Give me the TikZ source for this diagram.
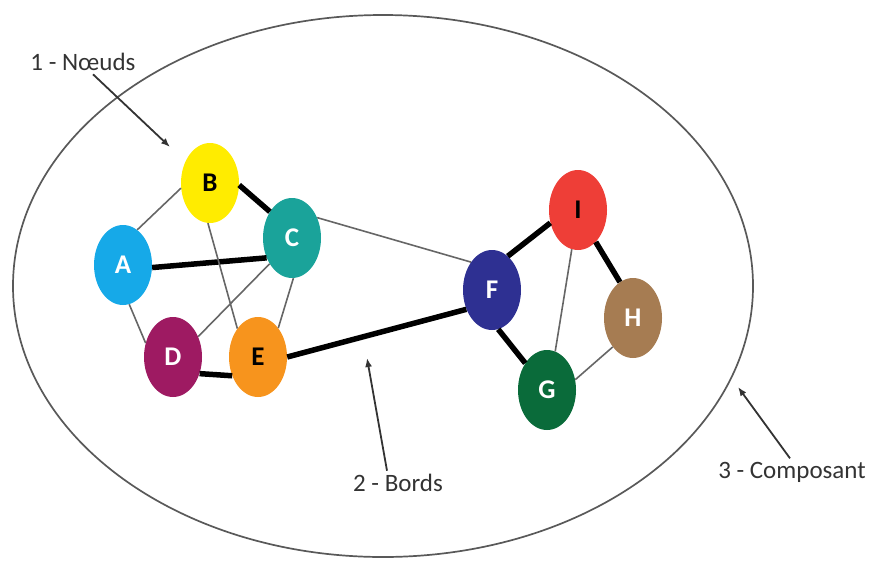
\documentclass[tikz,border=0pt]{standalone}
\usepackage{fontspec}
\setmainfont{Carlito}
\usetikzlibrary{arrows.meta,shapes.geometric}
\definecolor{cA}{HTML}{16A9E8}
\definecolor{cB}{HTML}{FFEC00}
\definecolor{cC}{HTML}{1AA39A}
\definecolor{cD}{HTML}{9E1A62}
\definecolor{cE}{HTML}{F7941D}
\definecolor{cF}{HTML}{2E3092}
\definecolor{cG}{HTML}{0A6B3A}
\definecolor{cH}{HTML}{A67C52}
\definecolor{cI}{HTML}{EE3E37}
\begin{document}
\begin{tikzpicture}[x=1pt,y=-1pt,
  vertex/.style={ellipse,minimum width=58pt,minimum height=80pt,inner sep=0pt,font=\bfseries\fontsize{27}{30}\selectfont},
  lien/.style={draw=black!60,line width=1.6pt},
  fort/.style={draw=black,line width=5.5pt},
  lbl/.style={font=\fontsize{25}{30}\selectfont,text=black!80},
  fl/.style={-{Latex[length=9pt,width=7pt]},line width=1.8pt,draw=black!80}]
\useasboundingbox (0,0) rectangle (869,560);
% composant
\draw[black!65,line width=1.7pt] (383,286) ellipse [x radius=370,y radius=271];
% noeuds
\node[vertex,fill=cA,text=white] (A) at (123,265) {A};
\node[vertex,fill=cB,text=black] (B) at (210,183) {B};
\node[vertex,fill=cC,text=white] (C) at (292,238) {C};
\node[vertex,fill=cD,text=white] (D) at (173,357) {D};
\node[vertex,fill=cE,text=black] (E) at (258,357) {E};
\node[vertex,fill=cF,text=white] (F) at (492,290) {F};
\node[vertex,fill=cI,text=black] (I) at (578,210) {I};
\node[vertex,fill=cH,text=white] (H) at (633,318) {H};
\node[vertex,fill=cG,text=white] (G) at (547,390) {G};
% bords
\draw[lien] (A.68) -- (B.190);
\draw[fort] (B.-4) -- (C.130);
\draw[fort] (A.-5) -- (C.218);
\draw[lien] (A.-81) -- (D.153);
\draw[lien] (B.-93) -- (E.126);
\draw[lien] (C.229) -- (D.39);
\draw[lien] (C.-88) -- (E.55);
\draw[fort] (D.-32) -- (E.216);
\draw[lien] (C.39) -- (F.127);
\draw[fort] (E.0) -- (F.217);
\draw[fort] (F.65) -- (I.205);
\draw[fort] (F.-81) -- (G.129);
\draw[fort] (I.-61) -- (H.110);
\draw[lien] (I.-99) -- (G.78);
\draw[lien] (G.20) -- (H.235);
% legendes
\node[lbl] (l1) at (83,62) {1 - Nœuds};
\node[lbl] (l2) at (398,483) {2 - Bords};
\node[lbl] (l3) at (792,472) {3 - Composant};
\coordinate (p1) at (170,147);
\coordinate (p2) at (367,358);
\coordinate (p3) at (738,387);
\draw[fl] ([xshift=10pt]l1.south) -- (p1);
\draw[fl] ([xshift=-11pt]l2.north) -- (p2);
\draw[fl] ([xshift=-2pt]l3.north) -- (p3);
\end{tikzpicture}
\end{document}
